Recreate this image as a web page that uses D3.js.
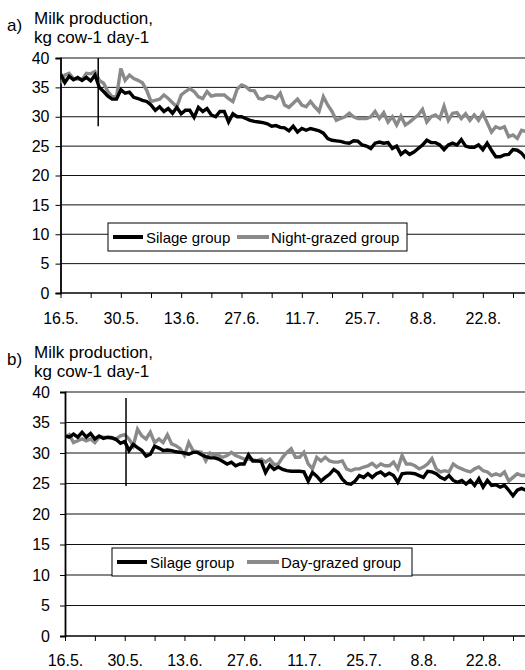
<!DOCTYPE html>
<html><head><meta charset="utf-8">
<script src="https://cdn.jsdelivr.net/npm/d3@7/dist/d3.min.js"></script>
<style>
html,body{margin:0;padding:0;background:#fff;}
text{font-family:"Liberation Sans",Arial,sans-serif;fill:#000;}
</style></head>
<body>
<svg id="chart" width="525" height="670"></svg>
<script>
// ---- data (daily values from 16.5., index = days since 16.5.) ----
const xTickLabels = ["16.5.","30.5.","13.6.","27.6.","11.7.","25.7.","8.8.","22.8."];
const yTicks = [0,5,10,15,20,25,30,35,40];

const silageA = [37.3,35.8,36.9,36.3,36.7,36.2,36.7,36.1,37.1,35.0,
 34.3,33.5,33.0,33.0,34.6,34.0,34.2,33.3,33.1,32.8,
 32.6,32.0,31.1,31.7,30.9,31.4,30.6,31.6,30.5,31.1,
 31.1,29.9,31.6,30.9,31.4,30.3,30.0,30.9,30.9,29.1,
 30.5,30.0,30.0,29.7,29.4,29.2,29.1,29.0,28.8,28.4,
 28.5,28.2,28.1,27.6,28.4,27.4,28.0,27.7,28.0,27.8,
 27.6,27.2,26.3,26.0,25.9,25.8,25.6,25.5,25.9,25.85,
 25.2,25.0,24.6,25.5,25.7,25.5,25.6,24.6,25.0,23.6,
 24.2,23.6,24.0,24.6,25.2,26.0,25.6,25.6,25.2,24.4,
 25.2,25.5,25.2,26.1,25.0,24.8,24.8,25.2,24.4,25.5,
 24.3,23.2,23.2,23.5,23.6,24.4,24.3,23.8,22.9];

const nightGrazed = [35.7,37.1,37.4,36.5,36.4,36.3,37.4,37.3,37.7,36.2,
 35.7,34.3,33.4,33.4,38.2,36.2,37.1,36.5,36.2,35.8,
 34.5,32.6,32.8,33.0,33.7,33.1,32.4,31.7,33.7,34.3,
 34.8,34.3,33.4,33.1,34.3,33.5,33.7,33.7,33.7,33.1,
 32.6,34.7,35.4,35.1,34.5,34.4,33.1,33.0,33.5,33.4,
 33.1,34.0,32.0,31.6,32.3,33.0,32.0,31.7,32.6,31.7,
 30.9,33.4,32.0,30.9,29.4,29.7,30.0,30.6,30.0,29.7,
 29.7,29.7,30.0,30.9,29.7,30.7,29.1,30.0,28.6,30.1,
 28.6,29.1,29.7,30.3,31.25,29.1,30.0,30.3,29.7,31.8,
 29.4,30.6,30.7,29.7,30.5,29.4,30.3,29.4,30.6,29.0,
 27.4,28.3,28.0,28.3,26.6,26.9,26.3,27.7,27.5];

const silageB = [32.8,32.6,33.1,32.6,33.4,32.6,33.2,32.3,32.8,32.4,
 32.6,32.5,32.2,31.6,31.9,30.4,31.4,30.9,30.4,29.5,
 29.8,31.1,30.8,30.4,30.5,30.4,30.2,30.1,30.0,29.8,
 30.1,30.1,29.7,29.4,29.2,29.2,29.0,28.6,28.2,28.5,
 27.9,28.2,28.2,29.7,28.7,28.7,28.6,26.8,28.0,27.3,
 27.7,27.3,27.1,27.0,27.0,27.0,26.9,25.4,26.8,26.2,
 25.4,26.0,26.5,27.3,26.8,25.7,25.0,24.9,25.4,26.3,
 26.0,26.6,26.0,26.6,26.9,26.3,26.7,26.3,25.2,26.6,
 26.7,26.7,26.6,26.3,26.0,27.0,26.9,26.6,26.0,25.7,
 26.3,25.5,25.2,25.5,24.9,25.5,24.7,25.8,24.4,25.5,
 24.7,24.8,24.4,24.7,23.9,23.0,23.9,24.2,23.9];

const dayGrazed = [32.6,33.0,31.7,32.0,32.3,32.0,32.3,31.7,32.6,32.6,
 32.5,32.4,32.3,32.8,33.0,32.3,31.2,33.9,32.8,32.3,
 33.4,31.7,32.3,31.7,33.0,31.5,31.2,30.7,29.6,31.7,
 30.4,30.2,30.1,28.7,30.0,29.6,29.6,29.3,29.6,30.1,
 29.6,29.3,29.0,29.0,28.9,28.7,29.0,28.5,29.0,28.1,
 28.2,29.3,30.1,30.7,29.3,29.3,30.1,28.2,27.4,29.3,
 28.7,29.3,28.7,28.5,28.5,28.7,27.4,27.1,27.4,27.4,
 27.7,27.9,28.3,27.7,28.2,27.9,27.9,28.5,27.4,29.6,
 28.2,28.2,27.9,27.4,27.7,28.2,29.1,27.4,26.9,27.1,
 26.9,28.2,27.7,27.4,27.1,26.9,27.4,27.7,27.1,26.9,
 26.3,26.6,26.3,26.9,25.4,26.0,26.6,26.3,26.3];

// start of treatment markers: [day, low value, high value]
const markerA = [8.75, 28.4, 40];
const markerB = [14.3, 24.6, 39.0];

const legendA = ["Silage group","Night-grazed group"];
const legendB = ["Silage group","Day-grazed group"];

// ---- drawing ----
const svg = d3.select("#chart");
const BLACK = "#000", GREY = "#8a8a8a";

function panel(o){
  const g = svg.append("g");
  const x = d3.scaleLinear().domain([0,105]).range([o.x0, 513]);
  const y = d3.scaleLinear().domain([0,40]).range([o.yBottom, o.yTop]);
  const clipId = "clip"+o.key;
  svg.append("clipPath").attr("id",clipId).append("rect")
    .attr("x",o.x0).attr("y",o.yTop-10).attr("width",525-o.x0).attr("height",o.yBottom-o.yTop+10);

  // gridlines
  g.selectAll("line.grid").data(yTicks.filter(v=>v>0)).join("line")
    .attr("x1",o.x0).attr("x2",525)
    .attr("y1",d=>y(d)).attr("y2",d=>y(d))
    .attr("stroke","#111").attr("stroke-width",1);

  // y axis
  const ya = d3.axisLeft(y).tickValues(yTicks).tickSize(5).tickPadding(o.yPad);
  const yg = g.append("g").attr("transform",`translate(${o.x0},0)`).call(ya);
  yg.select(".domain").attr("stroke","#000").attr("stroke-width",1.8);
  yg.selectAll(".tick line").attr("stroke","#000");
  yg.selectAll(".tick text").style("font-size","16px").style("font-family","Liberation Sans, Arial, sans-serif");

  // x axis
  const tickDays = d3.range(0,106,7);
  const xa = d3.axisBottom(x).tickValues(tickDays).tickSize(5).tickPadding(o.xPad)
    .tickFormat(d=> d%14===0 ? xTickLabels[d/14] : "");
  const xg = g.append("g").attr("transform",`translate(0,${o.yBottom})`).call(xa);
  xg.select(".domain").attr("stroke","#000").attr("stroke-width",1.5).attr("d",`M${o.x0},0H525`);
  xg.selectAll(".tick line").attr("stroke","#000");
  xg.selectAll(".tick text").style("font-size","16px").style("font-family","Liberation Sans, Arial, sans-serif");

  // lines
  const line = d3.line().x((d,i)=>x(i)).y(d=>y(d));
  const lg = g.append("g").attr("clip-path",`url(#${clipId})`);
  lg.append("path").datum(o.grey).attr("d",line).attr("fill","none")
    .attr("stroke",GREY).attr("stroke-width",3.4).attr("stroke-linejoin","miter");
  lg.append("path").datum(o.black).attr("d",line).attr("fill","none")
    .attr("stroke",BLACK).attr("stroke-width",3.4).attr("stroke-linejoin","miter");

  // marker
  g.append("line").attr("x1",x(o.marker[0])).attr("x2",x(o.marker[0]))
    .attr("y1",y(o.marker[2])).attr("y2",y(o.marker[1]))
    .attr("stroke","#000").attr("stroke-width",1.5);

  // legend
  const L = g.append("g").attr("transform",`translate(${o.legX},${o.legY})`);
  L.append("rect").attr("x",0).attr("y",0).attr("width",o.legW).attr("height",28)
    .attr("fill","#fff").attr("stroke","#000").attr("stroke-width",1);
  L.append("line").attr("x1",5).attr("x2",35).attr("y1",14).attr("y2",14).attr("stroke",BLACK).attr("stroke-width",4);
  L.append("text").attr("x",38).attr("y",19.5).style("font-size","15px").text(o.legend[0]);
  L.append("line").attr("x1",o.leg2).attr("x2",o.leg2+32).attr("y1",14).attr("y2",14).attr("stroke",GREY).attr("stroke-width",4);
  L.append("text").attr("x",o.leg2+34).attr("y",19.5).style("font-size","15px").text(o.legend[1]);

  // titles
  g.append("text").attr("x",7).attr("y",o.yTop-27).style("font-size","17px").text(o.key+")");
  g.append("text").attr("x",34).attr("y",o.yTop-34).style("font-size","17px").text("Milk production,");
  g.append("text").attr("x",34).attr("y",o.yTop-15).style("font-size","17px").text("kg cow-1 day-1");
}

panel({key:"a", x0:60.5, yTop:58, yBottom:293, yPad:6, xPad:15, black:silageA, grey:nightGrazed,
  marker:markerA, legend:legendA, legX:108, legY:223, legW:299, leg2:129});
panel({key:"b", x0:65, yTop:392, yBottom:636, yPad:10, xPad:14, black:silageB, grey:dayGrazed,
  marker:markerB, legend:legendB, legX:112, legY:548, legW:300, leg2:135});
</script>
</body></html>
